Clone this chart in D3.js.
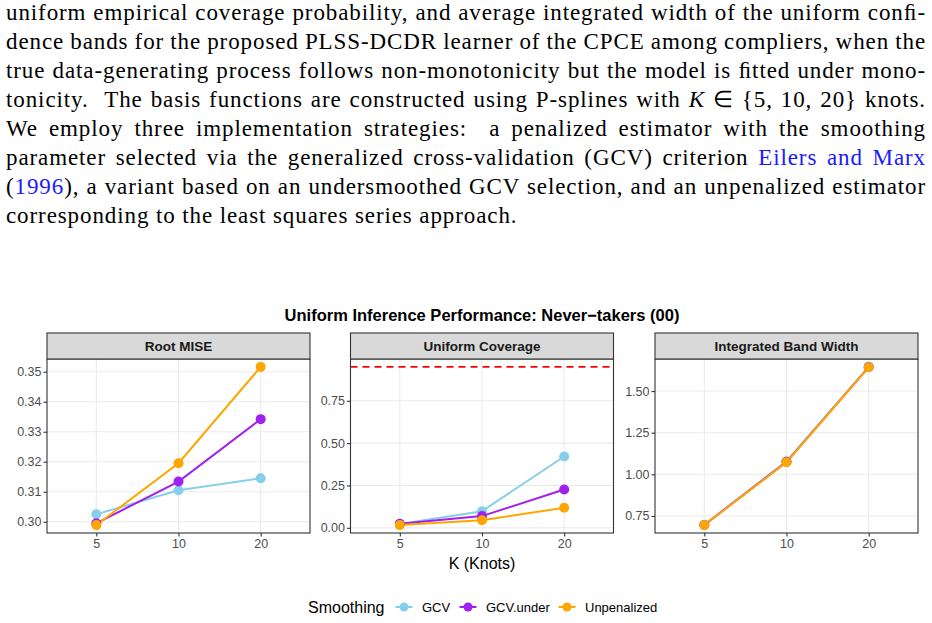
<!DOCTYPE html>
<html>
<head>
<meta charset="utf-8">
<script src="https://cdn.jsdelivr.net/npm/d3@7"></script>
<style>
  body { margin: 0; background: #fff; }
  #page { position: relative; width: 932px; height: 623px; overflow: hidden; }
</style>
</head>
<body>
<div id="page"></div>
<script>
// paragraph above the figure (one entry per printed line)
var paragraphLines = [
    [{ t: "uniform empirical coverage probability, and average integrated width of the uniform conﬁ-" }],
    [{ t: "dence bands for the proposed PLSS-DCDR learner of the CPCE among compliers, when the" }],
    [{ t: "true data-generating process follows non-monotonicity but the model is ﬁtted under mono-" }],
    [{ t: "tonicity.  The basis functions are constructed using P-splines with " }, { t: "K", it: true }, { t: " ∈ {5, 10, 20} knots." }],
    [{ t: "We employ three implementation strategies:  a penalized estimator with the smoothing" }],
    [{ t: "parameter selected via the generalized cross-validation (GCV) criterion " }, { t: "Eilers and Marx", link: true }],
    [{ t: "(" }, { t: "1996", link: true }, { t: "), a variant based on an undersmoothed GCV selection, and an unpenalized estimator" }],
    [{ t: "corresponding to the least squares series approach." }]
];

// chart data
var knots = ["5", "10", "20"];
var methods = ["GCV", "GCV.under", "Unpenalized"];
var methodColors = ["#87CEEB", "#A020F0", "#FFA500"];
var panelTitles = ["Root MISE", "Uniform Coverage", "Integrated Band Width"];

var rmiseGCV = [0.3025, 0.3105, 0.3145];
var rmiseUnder = [0.2995, 0.3134, 0.3342];
var rmiseUnpen = [0.2989, 0.3195, 0.3516];

var coverageGCV = [0.022, 0.098, 0.421];
var coverageUnder = [0.024, 0.069, 0.226];
var coverageUnpen = [0.016, 0.045, 0.118];
var nominalCoverage = 0.95;

var widthGCV = [0.697, 1.077, 1.645];
var widthUnder = [0.696, 1.075, 1.644];
var widthUnpen = [0.695, 1.073, 1.643];

var rmiseTicks = [0.30, 0.31, 0.32, 0.33, 0.34, 0.35];
var coverageTicks = [0, 0.25, 0.50, 0.75];
var widthTicks = [0.75, 1.00, 1.25, 1.50];

var panels = [
    { title: panelTitles[0], series: [rmiseGCV, rmiseUnder, rmiseUnpen], ticks: rmiseTicks, hline: null },
    { title: panelTitles[1], series: [coverageGCV, coverageUnder, coverageUnpen], ticks: coverageTicks, hline: nominalCoverage },
    { title: panelTitles[2], series: [widthGCV, widthUnder, widthUnpen], ticks: widthTicks, hline: null }
];

var sans = "'Liberation Sans', Arial, Helvetica, sans-serif";

var svg = d3.select("#page").append("svg")
    .attr("width", 932)
    .attr("height", 623);

// ---- paragraph text, justified line by line ----
var textG = svg.append("g").attr("class", "paragraph");
var lineLeft = 6, lineRight = 926, firstBase = 20, lineStep = 29;

paragraphLines.forEach(function (parts, i) {
    var txt = textG.append("text")
        .attr("x", lineLeft)
        .attr("y", firstBase + i * lineStep)
        .style("font-family", "'Liberation Serif', 'Times New Roman', serif")
        .style("font-size", "23px")
        .style("letter-spacing", "0.9px")
        .style("white-space", "pre")
        .attr("fill", "#000");
    parts.forEach(function (p) {
        txt.append("tspan")
            .text(p.t)
            .attr("fill", p.link ? "#1a1aff" : "#000")
            .style("font-style", p.it ? "italic" : "normal");
    });
    if (i < paragraphLines.length - 1) {
        var natural = txt.node().getComputedTextLength();
        var spaces = parts.map(function (p) { return p.t; }).join("").split(" ").length - 1;
        txt.style("word-spacing", ((lineRight - lineLeft - natural) / spaces) + "px");
    }
});

// ---- main title ----
svg.append("text")
    .attr("x", 482)
    .attr("y", 321)
    .attr("text-anchor", "middle")
    .style("font-family", sans)
    .style("font-size", "16.5px")
    .style("font-weight", "bold")
    .text("Uniform Inference Performance: Never\u2212takers (00)");

// ---- facets ----
var panelLeft = [47, 350.5, 655];
var panelW = 263;
var stripTop = 333, plotTop = 359, plotBottom = 533;
var plotH = plotBottom - plotTop;

var x = d3.scalePoint()
    .domain(knots)
    .range([0, panelW])
    .padding(0.6);

panels.forEach(function (p, pi) {
    var g = svg.append("g")
        .attr("transform", "translate(" + panelLeft[pi] + "," + plotTop + ")");

    var all = d3.merge(p.series);
    if (p.hline !== null) all.push(p.hline);
    var lo = d3.min(all), hi = d3.max(all), pad = (hi - lo) * 0.05;
    var y = d3.scaleLinear()
        .domain([lo - pad, hi + pad])
        .range([plotH, 0]);

    // grid
    g.append("g").selectAll("line.hgrid")
        .data(p.ticks)
        .enter().append("line")
        .attr("x1", 0).attr("x2", panelW)
        .attr("y1", d => y(d)).attr("y2", d => y(d))
        .attr("stroke", "#ebebeb").attr("stroke-width", 1.1);
    g.append("g").selectAll("line.vgrid")
        .data(knots)
        .enter().append("line")
        .attr("x1", d => x(d)).attr("x2", d => x(d))
        .attr("y1", 0).attr("y2", plotH)
        .attr("stroke", "#ebebeb").attr("stroke-width", 1.1);

    // nominal level
    if (p.hline !== null) {
        g.append("line")
            .attr("x1", 0).attr("x2", panelW)
            .attr("y1", y(p.hline)).attr("y2", y(p.hline))
            .attr("stroke", "red")
            .attr("stroke-width", 1.6)
            .attr("stroke-dasharray", "7,5");
    }

    var line = d3.line()
        .x(function (d, i) { return x(knots[i]); })
        .y(function (d) { return y(d); });

    g.append("g").selectAll("path")
        .data(p.series)
        .enter().append("path")
        .attr("d", line)
        .attr("fill", "none")
        .attr("stroke", (d, i) => methodColors[i])
        .attr("stroke-width", 2);

    p.series.forEach(function (s, si) {
        g.append("g").selectAll("circle")
            .data(s)
            .enter().append("circle")
            .attr("cx", (d, i) => x(knots[i]))
            .attr("cy", d => y(d))
            .attr("r", 5)
            .attr("fill", methodColors[si]);
    });

    // border
    g.append("rect")
        .attr("x", 0).attr("y", 0)
        .attr("width", panelW).attr("height", plotH)
        .attr("fill", "none")
        .attr("stroke", "#333333")
        .attr("stroke-width", 1.1);

    // strip
    g.append("rect")
        .attr("x", 0).attr("y", stripTop - plotTop)
        .attr("width", panelW).attr("height", plotTop - stripTop)
        .attr("fill", "#d9d9d9")
        .attr("stroke", "#333333")
        .attr("stroke-width", 1.1);
    g.append("text")
        .attr("x", panelW / 2)
        .attr("y", (stripTop - plotTop) / 2)
        .attr("dy", "0.35em")
        .attr("text-anchor", "middle")
        .style("font-family", sans)
        .style("font-size", "13.5px")
        .style("font-weight", "bold")
        .attr("fill", "#1a1a1a")
        .text(p.title);

    // axes
    var yAxis = g.append("g")
        .call(d3.axisLeft(y).tickValues(p.ticks).tickFormat(d3.format(".2f")).tickSize(3.5).tickPadding(2));
    var xAxis = g.append("g")
        .attr("transform", "translate(0," + plotH + ")")
        .call(d3.axisBottom(x).tickSize(3.5).tickPadding(3));
    [yAxis, xAxis].forEach(function (a) {
        a.select(".domain").remove();
        a.selectAll(".tick line").attr("stroke", "#333333").attr("stroke-width", 1.1);
        a.selectAll(".tick text")
            .attr("fill", "#4d4d4d")
            .style("font-family", sans)
            .style("font-size", "12.5px");
    });
});

// x axis title
svg.append("text")
    .attr("x", 482)
    .attr("y", 569)
    .attr("text-anchor", "middle")
    .style("font-family", sans)
    .style("font-size", "16px")
    .text("K (Knots)");

// ---- legend ----
var legend = svg.append("g").attr("class", "legend");
var legendY = 607;
legend.append("text")
    .attr("x", 308)
    .attr("y", legendY)
    .attr("dy", "0.35em")
    .style("font-family", sans)
    .style("font-size", "16px")
    .text("Smoothing");

var keyCenters = [404, 468, 567];
var labelStarts = [422, 486, 585];
methods.forEach(function (m, i) {
    legend.append("line")
        .attr("x1", keyCenters[i] - 8.5).attr("x2", keyCenters[i] + 8.5)
        .attr("y1", legendY).attr("y2", legendY)
        .attr("stroke", methodColors[i])
        .attr("stroke-width", 2);
    legend.append("circle")
        .attr("cx", keyCenters[i])
        .attr("cy", legendY)
        .attr("r", 4.5)
        .attr("fill", methodColors[i]);
    legend.append("text")
        .attr("x", labelStarts[i])
        .attr("y", legendY)
        .attr("dy", "0.35em")
        .style("font-family", sans)
        .style("font-size", "13px")
        .text(m);
});
</script>
</body>
</html>
